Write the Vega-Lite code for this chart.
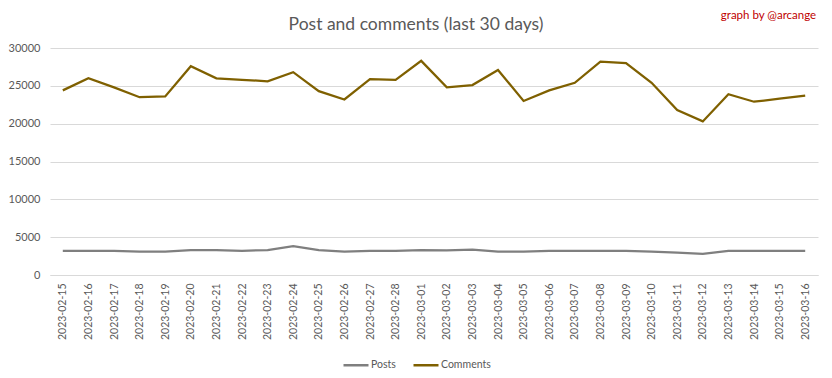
{
  "$schema": "https://vega.github.io/schema/vega-lite/v6.json",
  "width": 768,
  "height": 227,
  "autosize": {"type": "none"},
  "padding": {"left": 50, "top": 48, "right": 14, "bottom": 103},
  "background": "white",
  "title": {
    "text": "Post and comments (last 30 days)",
    "anchor": "middle",
    "dx": -18,
    "dy": 24,
    "offset": 0,
    "font": "Lato",
    "fontSize": 17.5,
    "fontWeight": "normal",
    "color": "#595959"
  },
  "data": {
    "values": [
      {"date": "2023-02-15", "series": "Posts", "value": 3200},
      {"date": "2023-02-16", "series": "Posts", "value": 3200},
      {"date": "2023-02-17", "series": "Posts", "value": 3200},
      {"date": "2023-02-18", "series": "Posts", "value": 3080},
      {"date": "2023-02-19", "series": "Posts", "value": 3080},
      {"date": "2023-02-20", "series": "Posts", "value": 3300},
      {"date": "2023-02-21", "series": "Posts", "value": 3300},
      {"date": "2023-02-22", "series": "Posts", "value": 3200},
      {"date": "2023-02-23", "series": "Posts", "value": 3300},
      {"date": "2023-02-24", "series": "Posts", "value": 3830},
      {"date": "2023-02-25", "series": "Posts", "value": 3300},
      {"date": "2023-02-26", "series": "Posts", "value": 3080},
      {"date": "2023-02-27", "series": "Posts", "value": 3200},
      {"date": "2023-02-28", "series": "Posts", "value": 3200},
      {"date": "2023-03-01", "series": "Posts", "value": 3300},
      {"date": "2023-03-02", "series": "Posts", "value": 3250},
      {"date": "2023-03-03", "series": "Posts", "value": 3350},
      {"date": "2023-03-04", "series": "Posts", "value": 3080},
      {"date": "2023-03-05", "series": "Posts", "value": 3080},
      {"date": "2023-03-06", "series": "Posts", "value": 3200},
      {"date": "2023-03-07", "series": "Posts", "value": 3200},
      {"date": "2023-03-08", "series": "Posts", "value": 3200},
      {"date": "2023-03-09", "series": "Posts", "value": 3200},
      {"date": "2023-03-10", "series": "Posts", "value": 3080},
      {"date": "2023-03-11", "series": "Posts", "value": 2950},
      {"date": "2023-03-12", "series": "Posts", "value": 2780},
      {"date": "2023-03-13", "series": "Posts", "value": 3200},
      {"date": "2023-03-14", "series": "Posts", "value": 3200},
      {"date": "2023-03-15", "series": "Posts", "value": 3200},
      {"date": "2023-03-16", "series": "Posts", "value": 3200},
      {"date": "2023-02-15", "series": "Comments", "value": 24400},
      {"date": "2023-02-16", "series": "Comments", "value": 26000},
      {"date": "2023-02-17", "series": "Comments", "value": 24800},
      {"date": "2023-02-18", "series": "Comments", "value": 23500},
      {"date": "2023-02-19", "series": "Comments", "value": 23600},
      {"date": "2023-02-20", "series": "Comments", "value": 27600},
      {"date": "2023-02-21", "series": "Comments", "value": 26000},
      {"date": "2023-02-22", "series": "Comments", "value": 25800},
      {"date": "2023-02-23", "series": "Comments", "value": 25600},
      {"date": "2023-02-24", "series": "Comments", "value": 26800},
      {"date": "2023-02-25", "series": "Comments", "value": 24300},
      {"date": "2023-02-26", "series": "Comments", "value": 23200},
      {"date": "2023-02-27", "series": "Comments", "value": 25900},
      {"date": "2023-02-28", "series": "Comments", "value": 25800},
      {"date": "2023-03-01", "series": "Comments", "value": 28300},
      {"date": "2023-03-02", "series": "Comments", "value": 24800},
      {"date": "2023-03-03", "series": "Comments", "value": 25100},
      {"date": "2023-03-04", "series": "Comments", "value": 27100},
      {"date": "2023-03-05", "series": "Comments", "value": 23000},
      {"date": "2023-03-06", "series": "Comments", "value": 24400},
      {"date": "2023-03-07", "series": "Comments", "value": 25400},
      {"date": "2023-03-08", "series": "Comments", "value": 28200},
      {"date": "2023-03-09", "series": "Comments", "value": 28000},
      {"date": "2023-03-10", "series": "Comments", "value": 25400},
      {"date": "2023-03-11", "series": "Comments", "value": 21800},
      {"date": "2023-03-12", "series": "Comments", "value": 20300},
      {"date": "2023-03-13", "series": "Comments", "value": 23900},
      {"date": "2023-03-14", "series": "Comments", "value": 22900},
      {"date": "2023-03-15", "series": "Comments", "value": 23300},
      {"date": "2023-03-16", "series": "Comments", "value": 23700}
    ]
  },
  "mark": {"type": "line", "strokeWidth": 2.25, "interpolate": "linear"},
  "encoding": {
    "x": {
      "field": "date",
      "type": "ordinal",
      "sort": null,
      "scale": {"type": "point", "padding": 0.5},
      "axis": {
        "title": null,
        "labelAngle": -90,
        "labelAlign": "right",
        "labelBaseline": "middle",
        "labelPadding": 8,
        "ticks": false,
        "domain": true,
        "domainColor": "#d9d9d9",
        "domainWidth": 1,
        "labelFont": "Lato",
        "labelFontSize": 10.5,
        "labelColor": "#595959",
        "grid": false
      }
    },
    "y": {
      "field": "value",
      "type": "quantitative",
      "scale": {"domain": [0, 30000], "nice": false},
      "axis": {
        "values": [0, 5000, 10000, 15000, 20000, 25000, 30000],
        "format": "d",
        "domain": false,
        "ticks": false,
        "grid": true,
        "gridColor": "#d9d9d9",
        "gridWidth": 1,
        "labelPadding": 10,
        "labelFont": "Lato",
        "labelFontSize": 11,
        "labelColor": "#595959",
        "title": "graph by @arcange",
        "titleAngle": 0,
        "titleX": 718,
        "titleY": -33,
        "titleAlign": "center",
        "titleBaseline": "middle",
        "titleFont": "Lato",
        "titleFontSize": 11.5,
        "titleFontWeight": "normal",
        "titleColor": "#c00000"
      }
    },
    "color": {
      "field": "series",
      "type": "nominal",
      "sort": ["Posts", "Comments"],
      "scale": {"domain": ["Posts", "Comments"], "range": ["#7f7f7f", "#7f6000"]},
      "legend": {
        "title": null,
        "orient": "none",
        "direction": "horizontal",
        "legendX": 292,
        "legendY": 303,
        "symbolType": "stroke",
        "symbolSize": 625,
        "symbolStrokeWidth": 2.5,
        "labelFont": "Lato",
        "labelFontSize": 10.5,
        "labelColor": "#595959",
        "labelOffset": 1,
        "columnPadding": 12
      }
    }
  },
  "config": {
    "view": {"stroke": null}
  }
}
